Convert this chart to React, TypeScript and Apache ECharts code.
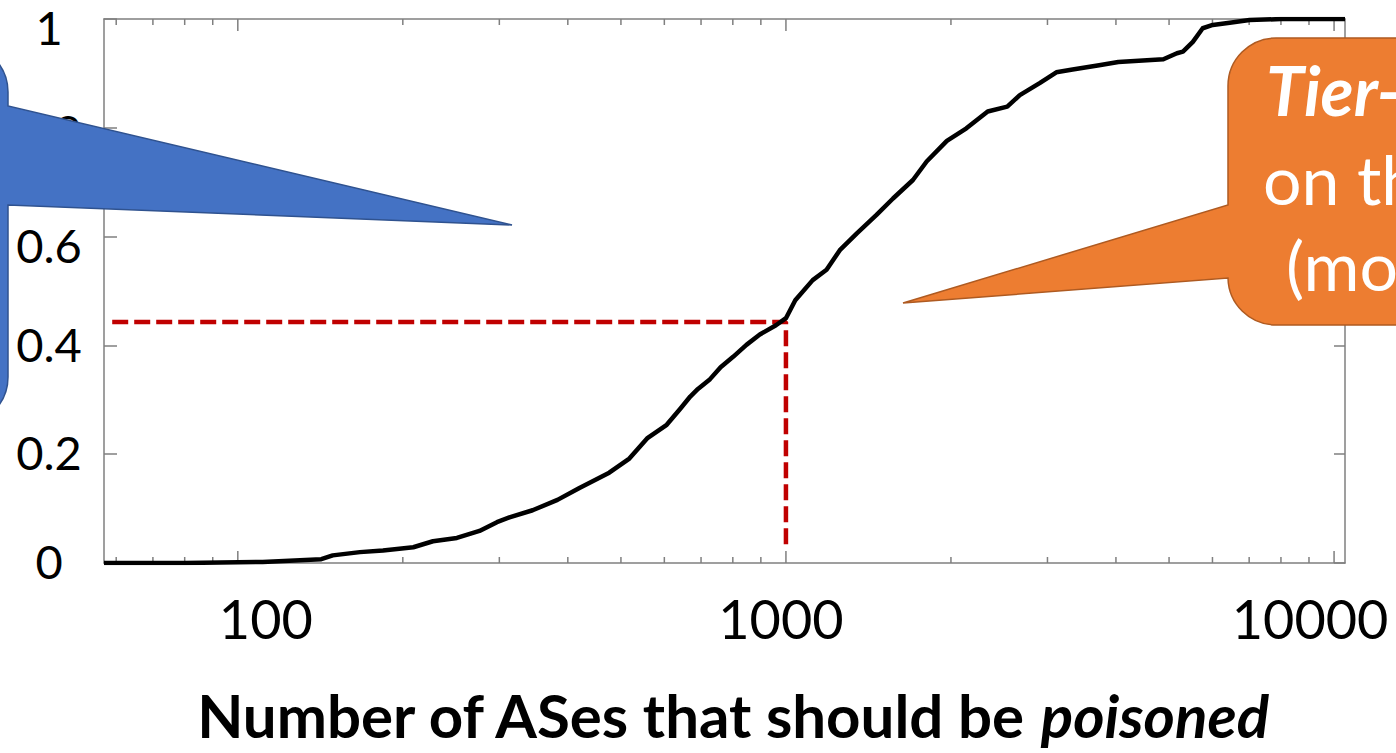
import React, { useEffect, useRef } from "react";
import * as echarts from "echarts";

// ---- data ----
const cdfPoints: [number, number][] = [
  [57, 0], [80, 0.0], [111, 0.002], [142, 0.007], [149, 0.014], [167, 0.02], [184, 0.023],
  [209, 0.029], [227, 0.04], [251, 0.046], [276, 0.059], [297, 0.075], [313, 0.084],
  [345, 0.097], [383, 0.116], [420, 0.138], [476, 0.166], [518, 0.192], [558, 0.229],
  [606, 0.254], [641, 0.283], [669, 0.306], [691, 0.32], [727, 0.338], [760, 0.36],
  [801, 0.379], [847, 0.401], [896, 0.42], [959, 0.437], [1000, 0.45], [1040, 0.483],
  [1119, 0.52], [1186, 0.539], [1254, 0.575], [1347, 0.606], [1463, 0.64], [1568, 0.67],
  [1705, 0.704], [1806, 0.738], [1966, 0.776], [2134, 0.799], [2334, 0.83], [2534, 0.839],
  [2671, 0.86], [2903, 0.882], [3114, 0.902], [3334, 0.907], [3727, 0.915], [4040, 0.921],
  [4882, 0.926], [5168, 0.937], [5300, 0.94], [5526, 0.958], [5759, 0.983], [6008, 0.989],
  [6452, 0.993], [7011, 0.998], [8000, 1.0], [10470, 1.0],
];
const refLine: [number, number][] = [[59, 0.443], [1000, 0.443], [1000, 0.024]];
const xMajorTicks = [100, 1000, 10000];
const xMinorTicks = [60, 70, 80, 90, 200, 300, 400, 500, 600, 700, 800, 900, 2000, 3000, 4000, 5000, 6000, 7000, 8000, 9000];
const xTickLabels = ["100", "1000", "10000"];
const yTickLabels = ["0", "0.2", "0.4", "0.6", "0.8", "1"];
const xMin = 57;
const xMax = 10470;
const xTitleMain = "Number of ASes that should be ";
const xTitleItalic = "poisoned";
const calloutLines = ["Tier-", "on th", "(mo"];

// ---- styles ----
const FONT = "Lato";
const AXIS = "#7f7f7f";

const bluePath =
  "M -300 44 L -40 44 A 48 48 0 0 1 8 92 L 8 106 L 512 225 L 8 205 L 8 377 A 48 48 0 0 1 -40 425 L -300 425 Z";
const orangePath =
  "M 1800 38 L 1276 38 A 48 48 0 0 0 1228 86 L 1228 205 L 903 303 L 1228 278 A 48 48 0 0 0 1276 325 L 1800 325 Z";

let registered = false;
function registerShapes() {
  if (registered) return;
  registered = true;
  echarts.graphic.registerShape("blueCallout", echarts.graphic.extendPath(bluePath, {}) as any);
  echarts.graphic.registerShape("orangeCallout", echarts.graphic.extendPath(orangePath, {}) as any);
}

const xLabelPad: Record<string, number[]> = {
  "100": [0, 0, 0, 56],
  "1000": [0, 10, 0, 0],
  "10000": [0, 48, 0, 0],
};
const yLabelPad: Record<string, number[]> = {
  "0": [0, 0, 4, 0],
  "0.2": [0, 0, 4, 0],
  "0.4": [0, 0, 2, 0],
  "0.6": [16, 0, 0, 0],
  "0.8": [6, 0, 0, 0],
  "1": [16, 0, 0, 0],
};

export default function App() {
  const ref = useRef<HTMLDivElement>(null);
  useEffect(() => {
    if (!ref.current) return;
    registerShapes();
    const chart = echarts.init(ref.current, null, { renderer: "svg" });

    const xRich: any = {};
    xTickLabels.forEach((l, i) => {
      xRich["x" + i] = { fontFamily: FONT, fontSize: 54, color: "#000", padding: xLabelPad[l] };
    });
    const yRich: any = {};
    yTickLabels.forEach((l, i) => {
      yRich["y" + i] = { fontFamily: FONT, fontSize: 47, color: "#000", padding: yLabelPad[l], align: "center" };
    });

    const tickData = [
      ...xMajorTicks.map((v) => [v, 1]),
      ...xMinorTicks.map((v) => [v, 0]),
    ];

    const option: any = {
      animation: false,
      backgroundColor: "#fff",
      grid: { left: 104, right: 51, top: 19, bottom: 190, containLabel: false, outerBoundsMode: "none" },
      xAxis: [
        {
          type: "log",
          logBase: 10,
          min: xMin,
          max: xMax,
          position: "bottom",
          axisLine: { show: true, onZero: false, lineStyle: { color: AXIS, width: 1.5 } },
          axisTick: { show: false },
          splitLine: { show: false },
          axisLabel: {
            margin: 28,
            formatter: (v: number) => {
              const idx = xMajorTicks.findIndex((t) => Math.abs(t - v) / t < 1e-6);
              if (idx < 0) return "";
              return `{x${idx}|${xTickLabels[idx]}}`;
            },
            rich: xRich,
          },
          name: `{b|${xTitleMain}}{bi|${xTitleItalic}}`,
          nameLocation: "middle",
          nameGap: 122,
          nameTextStyle: {
            padding: [0, 0, 0, 15],
            rich: {
              b: { fontFamily: FONT, fontSize: 60, fontWeight: "bold", color: "#000" },
              bi: { fontFamily: FONT, fontSize: 60, fontWeight: "bold", fontStyle: "italic", color: "#000" },
            },
          },
        },
        {
          type: "log",
          logBase: 10,
          min: xMin,
          max: xMax,
          position: "top",
          axisLine: { show: true, onZero: false, lineStyle: { color: AXIS, width: 1.5 } },
          axisTick: { show: false },
          axisLabel: { show: false },
          splitLine: { show: false },
        },
      ],
      yAxis: [
        {
          type: "value",
          min: 0,
          max: 1,
          interval: 0.2,
          position: "left",
          axisLine: { show: true, onZero: false, lineStyle: { color: AXIS, width: 1.5 } },
          axisTick: { show: true, inside: true, length: 13, lineStyle: { color: AXIS, width: 1.5 } },
          splitLine: { show: false },
          axisLabel: {
            margin: 55,
            align: "center",
            formatter: (v: number) => {
              const idx = Math.round(v / 0.2);
              return `{y${idx}|${yTickLabels[idx]}}`;
            },
            rich: yRich,
          },
        },
        {
          type: "value",
          min: 0,
          max: 1,
          interval: 0.2,
          position: "right",
          axisLine: { show: true, onZero: false, lineStyle: { color: AXIS, width: 1.5 } },
          axisTick: { show: true, inside: true, length: 11, lineStyle: { color: AXIS, width: 1.5 } },
          axisLabel: { show: false },
          splitLine: { show: false },
        },
      ],
      series: [
        {
          type: "custom",
          xAxisIndex: 0,
          yAxisIndex: 0,
          clip: false,
          silent: true,
          z: 1,
          data: tickData,
          renderItem: (_p: any, api: any) => {
            const v = api.value(0);
            const len = api.value(1) ? 12 : 6;
            const b = api.coord([v, 0]);
            const t = api.coord([v, 1]);
            const st = { stroke: AXIS, lineWidth: 1.5 };
            return {
              type: "group",
              children: [
                { type: "line", shape: { x1: b[0], y1: b[1], x2: b[0], y2: b[1] - len }, style: st },
                { type: "line", shape: { x1: t[0], y1: t[1], x2: t[0], y2: t[1] + len }, style: st },
              ],
            };
          },
        },
        {
          type: "line",
          data: refLine,
          showSymbol: false,
          symbol: "none",
          z: 2,
          lineStyle: { color: "#C00000", width: 4.5, type: [16, 6] },
        },
        {
          type: "line",
          data: cdfPoints,
          showSymbol: false,
          symbol: "none",
          z: 3,
          lineStyle: { color: "#000", width: 4.5, join: "round" },
        },
      ],
      graphic: [
        {
          type: "blueCallout",
          x: 0,
          y: 0,
          z: 100,
          style: { fill: "#4472C4", stroke: "#2F528F", lineWidth: 1.5 },
        },
        {
          type: "orangeCallout",
          x: 0,
          y: 0,
          z: 100,
          style: { fill: "#ED7D31", stroke: "#AE5A21", lineWidth: 1.5 },
        },
        {
          type: "text",
          x: 1266,
          y: 89,
          z: 101,
          style: {
            text: calloutLines[0],
            fill: "#fff",
            fontFamily: FONT,
            fontSize: 68,
            fontWeight: "bold",
            fontStyle: "italic",
            verticalAlign: "middle",
            align: "left",
          },
        },
        {
          type: "text",
          x: 1263,
          y: 178,
          z: 101,
          style: {
            text: calloutLines[1],
            fill: "#fff",
            fontFamily: FONT,
            fontSize: 68,
            verticalAlign: "middle",
            align: "left",
          },
        },
        {
          type: "text",
          x: 1286,
          y: 264,
          z: 101,
          style: {
            text: calloutLines[2],
            fill: "#fff",
            fontFamily: FONT,
            fontSize: 68,
            verticalAlign: "middle",
            align: "left",
          },
        },
      ],
    };
    chart.setOption(option);
    return () => chart.dispose();
  }, []);
  return (
    <div
      ref={ref}
      style={{ position: "fixed", left: 0, top: 0, width: 1396, height: 753, background: "#fff" }}
    />
  );
}
